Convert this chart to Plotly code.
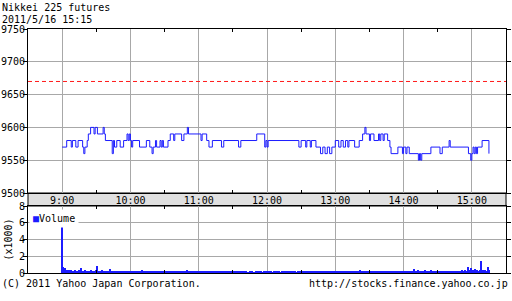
import plotly.graph_objects as go
import pandas as pd

title_line1 = "Nikkei 225 futures"
title_line2 = "2011/5/16 15:15"
footer_left = "(C) 2011 Yahoo Japan Corporation."
footer_right = "http://stocks.finance.yahoo.co.jp"
session_open = "2011-05-16 09:00"
x_start = "2011-05-16 08:30"
x_end = "2011-05-16 15:30"

# price changes: minutes after 9:00 and new price
change_minutes = [0, 4, 8, 9, 12, 14, 18, 19, 20, 22, 23, 25, 28, 29, 31, 36, 37, 38, 44, 45,
                  46, 48, 51, 54, 57, 58, 59, 60, 61, 62, 68, 74, 77, 79, 80, 82, 83, 86, 87, 88,
                  89, 93, 95, 98, 99, 105, 107, 110, 111, 122, 123, 127, 129, 132, 140, 142, 155, 157, 171, 178,
                  179, 180, 181, 208, 210, 214, 215, 218, 219, 223, 227, 229, 231, 233, 235, 237, 240, 243, 245, 247,
                  249, 251, 252, 257, 261, 264, 266, 267, 270, 271, 274, 278, 279, 280, 282, 283, 286, 288, 289, 295,
                  299, 300, 302, 303, 305, 313, 314, 315, 316, 324, 332, 334, 340, 341, 357, 359, 360, 361, 362, 363,
                  364, 365, 369, 375]
change_prices = [9570, 9580, 9570, 9580, 9570, 9580, 9570, 9560, 9570, 9580, 9590, 9600, 9590, 9600, 9590, 9600, 9590, 9580, 9560, 9580,
                 9570, 9580, 9570, 9580, 9590, 9580, 9590, 9580, 9570, 9580, 9570, 9580, 9570, 9560, 9570, 9580, 9570, 9580, 9570, 9580,
                 9570, 9580, 9590, 9580, 9590, 9580, 9590, 9600, 9590, 9580, 9590, 9580, 9570, 9580, 9570, 9580, 9570, 9580, 9590, 9570,
                 9580, 9570, 9580, 9570, 9580, 9570, 9580, 9570, 9580, 9570, 9560, 9570, 9560, 9570, 9560, 9570, 9580, 9570, 9580, 9570,
                 9580, 9570, 9580, 9570, 9580, 9590, 9600, 9590, 9580, 9590, 9580, 9590, 9580, 9590, 9580, 9590, 9580, 9570, 9560, 9570,
                 9560, 9570, 9560, 9570, 9560, 9550, 9560, 9550, 9560, 9570, 9560, 9570, 9580, 9570, 9560, 9550, 9560, 9570, 9560, 9570,
                 9560, 9570, 9580, 9560]
prev_close = 9670

# per-minute volume (contracts) from 9:00
volume = [6000, 720, 480, 650, 300, 260, 380, 220, 310, 270,
          240, 330, 190, 280, 210, 350, 260, 640, 230, 180,
          300, 220, 260, 190, 240, 310, 200, 170, 280, 230,
          350, 880, 260, 210, 190, 300, 240, 180, 220, 270,
          160, 230, 420, 200, 250, 180, 210, 170, 260, 190,
          220, 150, 280, 200, 170, 240, 190, 210, 160, 230,
          180, 200, 260, 150, 210, 170, 240, 190, 160, 220,
          300, 180, 150, 200, 170, 260, 210, 140, 190, 230,
          160, 210, 180, 250, 150, 190, 220, 170, 140, 200,
          180, 160, 230, 190, 150, 210, 170, 260, 140, 180,
          200, 160, 190, 150, 230, 170, 140, 190, 210, 160,
          330, 180, 150, 200, 170, 140, 190, 160, 220, 150,
          180, 140, 200, 160, 170, 130, 190, 150, 210, 140,
          170, 160, 130, 180, 150, 200, 140, 120, 160, 150,
          190, 130, 150, 170, 120, 160, 140, 180, 130, 150,
          110, 140, 120, 160, 100, 130, 150, 110, 140, 120,
          130, 100, 150, 120, 110, 140, 100, 130, 120, 110,
          150, 120, 140, 100, 130, 160, 110, 140, 120, 180,
          130, 110, 150, 120, 140, 100, 130, 160, 110, 140,
          120, 150, 110, 130, 170, 120, 140, 110, 160, 130,
          150, 120, 180, 140, 130, 160, 120, 190, 150, 210,
          140, 170, 130, 200, 150, 180, 140, 230, 160, 190,
          150, 210, 170, 140, 190, 160, 220, 150, 180, 200,
          170, 140, 210, 160, 190, 150, 230, 170, 200, 160,
          180, 150, 210, 170, 140, 190, 160, 220, 150, 180,
          170, 200, 150, 190, 160, 140, 210, 170, 150, 190,
          160, 180, 340, 170, 200, 150, 190, 160, 210, 180,
          150, 190, 170, 220, 160, 180, 150, 200, 170, 160,
          190, 150, 180, 210, 170, 160, 200, 150, 190, 170,
          160, 200, 180, 150, 210, 170, 190, 160, 180, 200,
          170, 220, 160, 190, 280, 180, 210, 170, 200, 520,
          190, 230, 180, 400, 210, 190, 250, 200, 180, 350,
          210, 190, 240, 180, 300, 200, 230, 190, 260, 210,
          200, 240, 190, 280, 220, 200, 250, 210, 230, 190,
          260, 220, 210, 240, 200, 290, 230, 250, 210, 270,
          240, 300, 260, 220, 330, 280, 250, 680, 310, 560,
          270, 340, 300, 420, 290, 360, 280, 320, 1380, 350,
          300, 260, 340, 290, 760, 310]

hour_ticks = ["2011-05-16 09:00", "2011-05-16 10:00", "2011-05-16 11:00", "2011-05-16 12:00",
              "2011-05-16 13:00", "2011-05-16 14:00", "2011-05-16 15:00"]
hour_labels = ["9:00", "10:00", "11:00", "12:00", "13:00", "14:00", "15:00"]
half_ticks = ["2011-05-16 09:30", "2011-05-16 10:30", "2011-05-16 11:30", "2011-05-16 12:30",
              "2011-05-16 13:30", "2011-05-16 14:30"]
price_ticks = [9500, 9550, 9600, 9650, 9700, 9750]
vol_ticks = [0, 2, 4, 6, 8]

FONT = "DejaVu Sans Mono"
BLUE = "#1c1cff"
GRID = "#a8a8a8"

base = pd.Timestamp(session_open)
price_x = [base + pd.Timedelta(minutes=m) for m in change_minutes]
vol_x = [base + pd.Timedelta(minutes=i) for i in range(len(volume))]
vol_k = [v / 1000 for v in volume]

W, H = 512, 301
ml, mr, mt, mb = 28, 6, 29, 28
pw, ph = W - ml - mr, H - mt - mb
price_bottom = (H - mb - 193) / ph
vol_top = (H - mb - 206) / ph

fig = go.Figure()
fig.add_trace(go.Scatter(x=[x_start, x_end], y=[prev_close, prev_close], mode="lines",
                         line=dict(color="#ff1a1a", width=1, dash="4px,3px"),
                         xaxis="x", yaxis="y", showlegend=False, hoverinfo="skip"))
fig.add_trace(go.Scatter(x=price_x, y=change_prices, mode="lines", line=dict(color=BLUE, width=1, shape="hv"),
                         xaxis="x", yaxis="y", showlegend=False))
fig.add_trace(go.Bar(x=vol_x, y=vol_k, width=60000, marker=dict(color=BLUE, line=dict(width=0)),
                     xaxis="x2", yaxis="y2", showlegend=False))

fig.add_shape(type="rect", xref="paper", yref="paper", x0=0, x1=1, y0=vol_top, y1=price_bottom,
              fillcolor="#e0e0e0", line=dict(color="black", width=1), layer="below")

common_x = dict(range=[x_start, x_end], tickmode="array", tickvals=hour_ticks, showgrid=True,
                gridcolor=GRID, gridwidth=1, showline=True, linecolor="black", linewidth=1, mirror="ticks",
                ticks="", zeroline=False,
                minor=dict(tickmode="array", tickvals=half_ticks, ticks="inside", ticklen=3,
                           tickcolor="black", showgrid=False))

common_y = dict(showgrid=True, gridcolor=GRID, showline=True, linecolor="black", mirror="ticks",
                ticks="outside", ticklen=4, tickcolor="black", zeroline=False, automargin=False,
                ticklabelstandoff=-4, tickfont=dict(family=FONT, size=10))

fig.update_layout(
    width=W, height=H, margin=dict(l=ml, r=mr, t=mt, b=mb, autoexpand=False),
    paper_bgcolor="white", plot_bgcolor="white",
    font=dict(family=FONT, size=10, color="black"),
    bargap=0,
    xaxis=dict(**common_x, anchor="y", ticktext=hour_labels, showticklabels=True, ticklabelstandoff=-2,
               tickfont=dict(family=FONT, size=10)),
    xaxis2=dict(**common_x, anchor="y2", matches="x", showticklabels=False),
    yaxis=dict(**common_y, domain=[price_bottom, 1], range=[9500, 9750], tickvals=price_ticks),
    yaxis2=dict(**common_y, domain=[0, vol_top], range=[0, 8], tickvals=vol_ticks,
                title=dict(text="(x1000)", font=dict(family=FONT, size=10), standoff=4)),
)

fig.add_annotation(xref="paper", yref="paper", x=-ml / pw, y=(H - mb) / ph, xanchor="left", yanchor="top",
                   text=title_line1, showarrow=False, font=dict(family=FONT, size=10))
fig.add_annotation(xref="paper", yref="paper", x=-ml / pw, y=(H - mb - 12) / ph, xanchor="left", yanchor="top",
                   text=title_line2, showarrow=False, font=dict(family=FONT, size=10))
fig.add_annotation(xref="paper", yref="paper", x=-ml / pw, y=(H - mb - 283) / ph, xanchor="left", yanchor="middle",
                   text=footer_left, showarrow=False, font=dict(family=FONT, size=10))
fig.add_annotation(xref="paper", yref="paper", x=(510 - ml) / pw, y=(H - mb - 283) / ph, xanchor="right",
                   yanchor="middle", text=footer_right, showarrow=False, font=dict(family=FONT, size=10))
fig.add_annotation(xref="paper", yref="paper", x=1 / pw, y=(H - mb - 218) / ph, xanchor="left", yanchor="middle",
                   text='<span style="color:%s">■</span>Volume' % BLUE, showarrow=False,
                   bgcolor="white", borderpad=3, font=dict(family=FONT, size=10))

fig.write_html("out.html")
